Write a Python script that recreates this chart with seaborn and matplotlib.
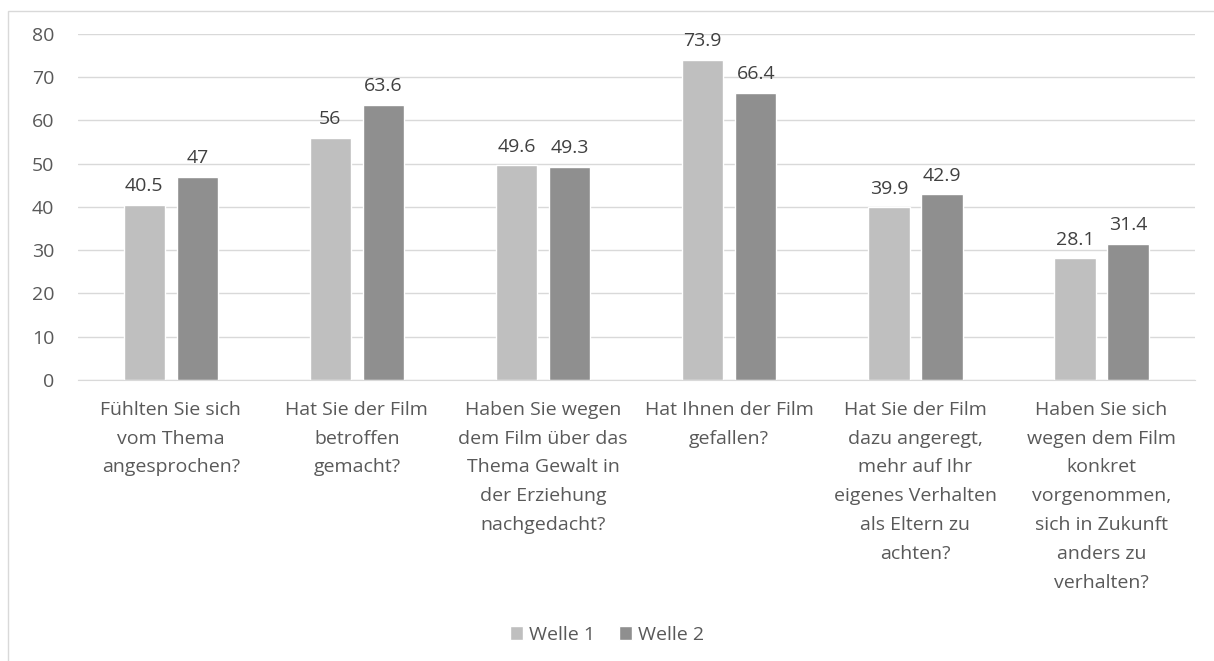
import pandas as pd
import matplotlib.pyplot as plt
import seaborn as sns
from matplotlib.patches import Rectangle

categories = [
    "Fühlten Sie sich\nvom Thema\nangesprochen?",
    "Hat Sie der Film\nbetroffen\ngemacht?",
    "Haben Sie wegen\ndem Film über das\nThema Gewalt in\nder Erziehung\nnachgedacht?",
    "Hat Ihnen der Film\ngefallen?",
    "Hat Sie der Film\ndazu angeregt,\nmehr auf Ihr\neigenes Verhalten\nals Eltern zu\nachten?",
    "Haben Sie sich\nwegen dem Film\nkonkret\nvorgenommen,\nsich in Zukunft\nanders zu\nverhalten?",
]
welle1 = [40.5, 56, 49.6, 73.9, 39.9, 28.1]
welle2 = [47, 63.6, 49.3, 66.4, 42.9, 31.4]
series = ["Welle 1", "Welle 2"]
labels1 = ["40.5", "56", "49.6", "73.9", "39.9", "28.1"]
labels2 = ["47", "63.6", "49.3", "66.4", "42.9", "31.4"]

df = pd.DataFrame({
    "cat": categories * 2,
    "val": welle1 + welle2,
    "serie": [series[0]] * 6 + [series[1]] * 6,
})

sns.set_style("white")
plt.rcParams["font.family"] = ["Open Sans", "DejaVu Sans"]
txt = "#595959"
fs = 14

fig = plt.figure(figsize=(12.14, 6.61), dpi=100)
ax = fig.add_axes([0.064, 0.425, 0.920, 0.524])

sns.barplot(data=df, x="cat", y="val", hue="serie", ax=ax,
            palette=["#BFBFBF", "#8F8F8F"], width=0.57, gap=0.22,
            saturation=1, legend=True)

for cont, labs in zip(ax.containers, [labels1, labels2]):
    ax.bar_label(cont, labels=labs, padding=7, fontsize=fs, color="#404040")

ax.set_ylim(0, 80)
ax.set_yticks(range(0, 81, 10))
ax.set_xlim(-0.5, 5.5)
ax.yaxis.grid(True, color="#D9D9D9", linewidth=1)
ax.set_axisbelow(True)
for s in ["top", "right", "left"]:
    ax.spines[s].set_visible(False)
ax.spines["bottom"].set_color("#D9D9D9")
ax.tick_params(axis="both", length=0, labelsize=fs, colors=txt)
ax.tick_params(axis="y", pad=17)
ax.tick_params(axis="x", pad=15)
ax.set_xlabel("")
ax.set_ylabel("")
for t in ax.get_xticklabels():
    t.set_verticalalignment("top")
    t.set_linespacing(1.77)

ax.legend(loc="lower center", bbox_to_anchor=(0.5, 0.0), bbox_transform=fig.transFigure,
          ncol=2, frameon=False, fontsize=fs, labelcolor=txt,
          handlelength=0.7, handleheight=0.7, handletextpad=0.3, columnspacing=1.2)

fig.patches.append(Rectangle((8 / 1214, -0.1), 1.2, 1 - 11 / 661 + 0.1,
                             transform=fig.transFigure, fill=False,
                             edgecolor="#D9D9D9", linewidth=1))

fig.savefig("out.png", dpi=100)
